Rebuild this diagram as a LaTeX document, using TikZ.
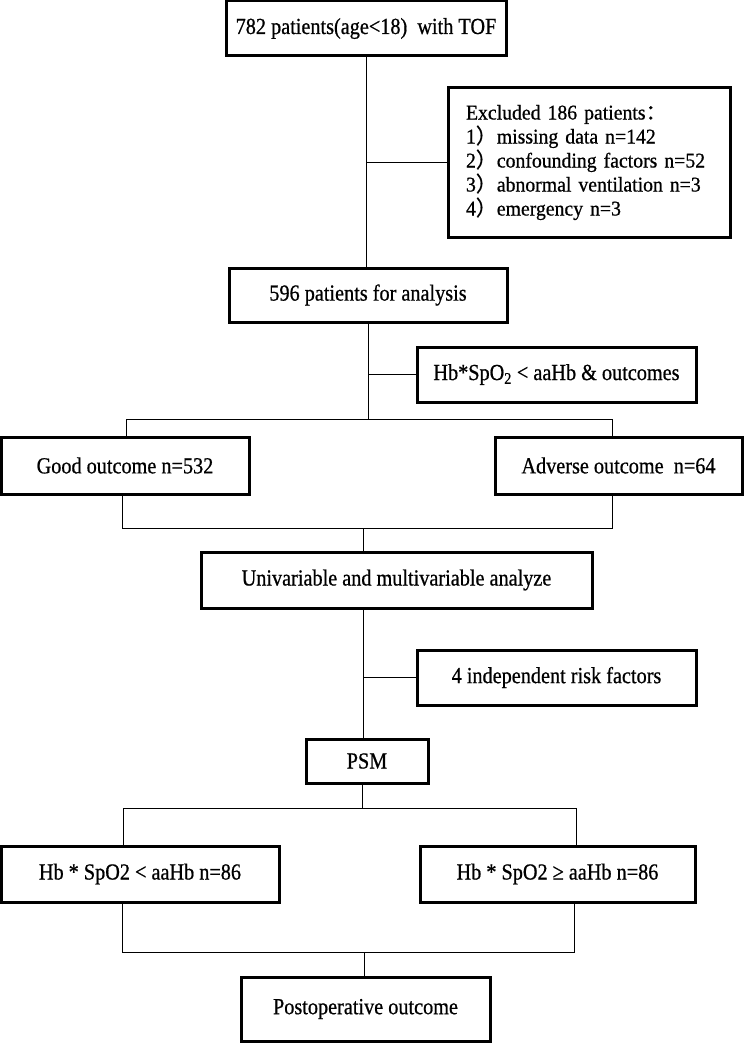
\documentclass[tikz,border=0pt]{standalone}
\usepackage{fontspec}
\setmainfont[FakeStretch=0.88, FakeBold=0.7]{Liberation Serif}
\newfontfamily\exfont[FakeStretch=0.94, FakeBold=0.7]{Liberation Serif}
\newfontfamily\cjk[FakeBold=0.7]{Noto Sans CJK SC}

\begin{document}
\begin{tikzpicture}[x=1pt, y=-1pt,
  box/.style={draw, line width=3pt, inner sep=0pt, font=\fontsize{23}{26}\selectfont},
  conn/.style={line width=1pt}]
\useasboundingbox (0,0) rectangle (744,1043);

\node[box, minimum width=280pt, minimum height=55pt] (tof) at (366, 28.5) {782 patients(age<18)\ \ with TOF};
\node[box, minimum width=282pt, minimum height=149pt, text width=246pt, align=left,
      font=\exfont\fontsize{21}{24}\selectfont] (excl) at (589, 162.5)
      {Excluded 186 patients{\cjk ：}\\
       1{\cjk ）}missing data n=142\\
       2{\cjk ）}confounding factors n=52\\
       3{\cjk ）}abnormal ventilation n=3\\
       4{\cjk ）}emergency n=3};
\node[box, minimum width=278pt, minimum height=54pt] (n596) at (368, 295) {596 patients for analysis};
\node[box, minimum width=279pt, minimum height=55pt] (hbb) at (556.5, 374.5) {Hb*SpO\textsubscript{2} < aaHb \& outcomes};
\node[box, minimum width=248pt, minimum height=57pt] (good) at (125, 465.5) {Good outcome n=532};
\node[box, minimum width=247pt, minimum height=57pt] (adv) at (618.5, 465.5) {Adverse outcome\ \ n=64};
\node[box, minimum width=391pt, minimum height=56pt] (univ) at (396.5, 580) {Univariable and multivariable analyze};
\node[box, minimum width=279pt, minimum height=55pt] (risk) at (556.5, 677.5) {4 independent risk factors};
\node[box, minimum width=122pt, minimum height=44pt] (psm) at (367, 761) {PSM};
\node[box, minimum width=278pt, minimum height=56pt] (hblt) at (140, 874) {Hb * SpO2 < aaHb n=86};
\node[box, minimum width=275pt, minimum height=56pt] (hbge) at (557.5, 874) {Hb * SpO2 ≥ aaHb n=86};
\node[box, minimum width=249pt, minimum height=64pt] (post) at (365.5, 1009) {Postoperative outcome};

\coordinate (sp1) at (368, 419);
\coordinate (sp1l) at (126, 419);
\coordinate (sp1r) at (612, 419);
\coordinate (mg1) at (363, 528);
\coordinate (mg1l) at (122, 528);
\coordinate (mg1r) at (612, 528);
\coordinate (sp2) at (362, 808);
\coordinate (sp2l) at (123, 808);
\coordinate (sp2r) at (576, 808);
\coordinate (mg2) at (364, 952);
\coordinate (mg2l) at (122, 952);
\coordinate (mg2r) at (574, 952);

\draw[conn] (tof.south) -- (tof.south |- n596.north)
      (tof.south |- excl.west) -- (excl.west);
\draw[conn] (n596.south) -- (sp1)
      (n596.south |- hbb.west) -- (hbb.west);
\draw[conn] (sp1l |- good.north) -- (sp1l) -- (sp1r) -- (sp1r |- adv.north);
\draw[conn] (mg1l |- good.south) -- (mg1l) -- (mg1r) -- (mg1r |- adv.south);
\draw[conn] (mg1) -- (mg1 |- univ.north);
\draw[conn] (mg1 |- univ.south) -- (mg1 |- psm.north)
      (mg1 |- risk.west) -- (risk.west);
\draw[conn] (sp2 |- psm.south) -- (sp2);
\draw[conn] (sp2l |- hblt.north) -- (sp2l) -- (sp2r) -- (sp2r |- hbge.north);
\draw[conn] (mg2l |- hblt.south) -- (mg2l) -- (mg2r) -- (mg2r |- hbge.south);
\draw[conn] (mg2) -- (mg2 |- post.north);
\end{tikzpicture}
\end{document}
